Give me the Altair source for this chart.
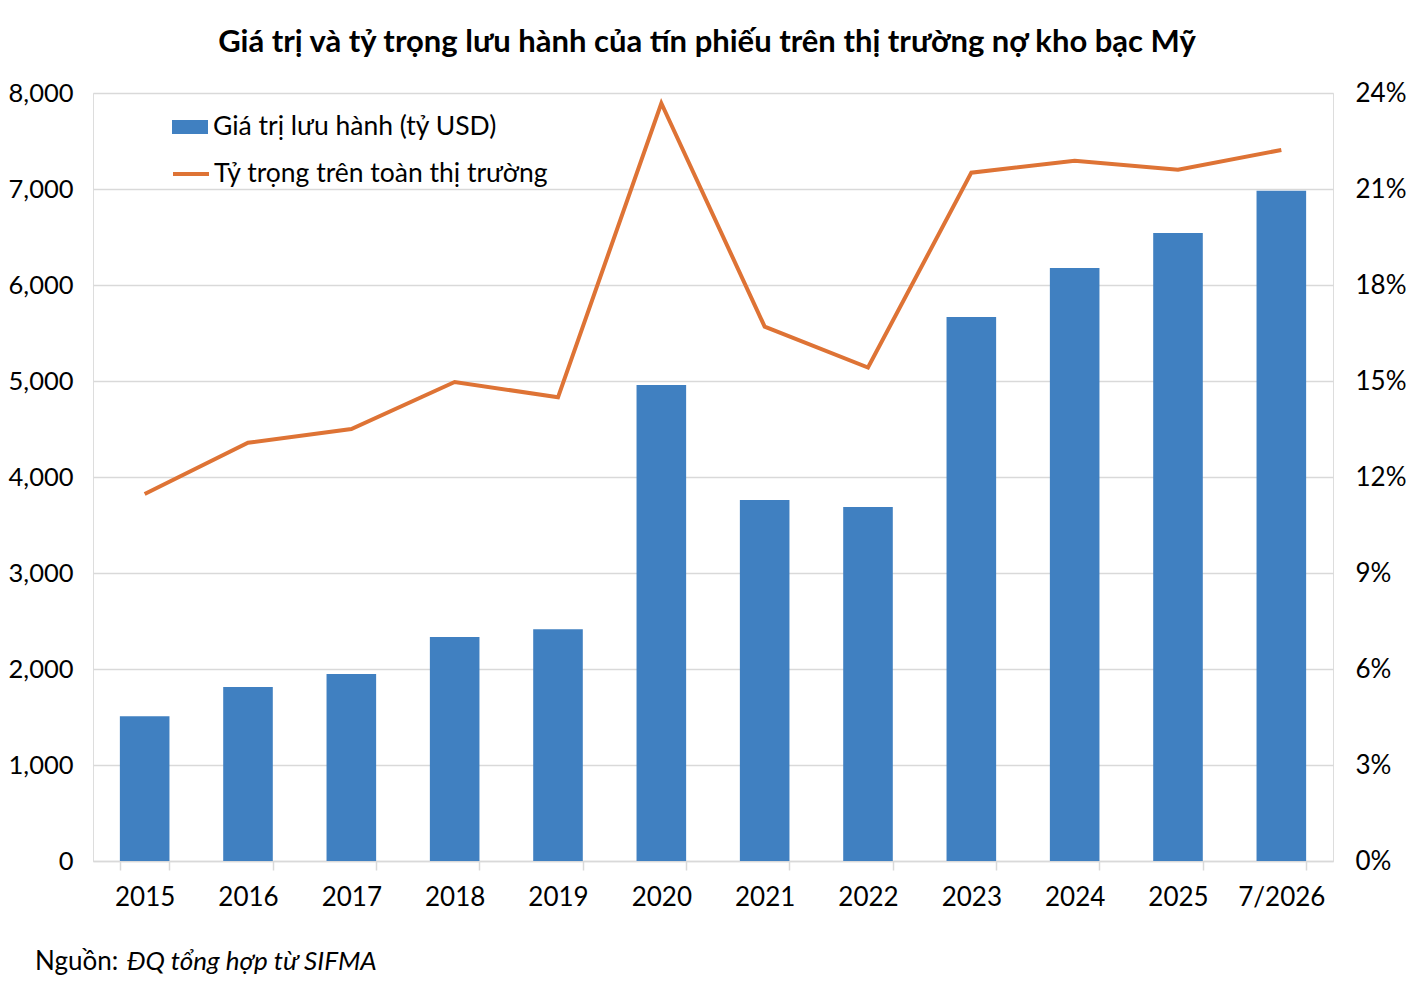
import altair as alt
import pandas as pd

years = ["2015", "2016", "2017", "2018", "2019", "2020", "2021", "2022", "2023", "2024", "2025", "7/2026"]
values = [1507, 1812, 1948, 2333, 2413, 4958, 3760, 3687, 5667, 6177, 6542, 6982]
share = [11.47, 13.07, 13.5, 14.97, 14.49, 23.68, 16.7, 15.42, 21.51, 21.88, 21.6, 22.22]

bar_name = "Giá trị lưu hành (tỷ USD)"
line_name = "Tỷ trọng trên toàn thị trường"
title = "Giá trị và tỷ trọng lưu hành của tín phiếu trên thị trường nợ kho bạc Mỹ"
source_label = ["Nguồn:"]
source_text = ["ĐQ tổng hợp từ SIFMA"]

df = pd.DataFrame({"year": years, "value": values, "share": share,
                   "s1": bar_name, "s2": line_name})
src_df = pd.DataFrame({"a": source_label, "b": source_text})

FONT = "Lato"
BLUE = "#4080C1"
ORANGE = "#DE7335"
GRID = "#D9D9D9"
FS = 26

x = alt.X("year:N", sort=years, title=None,
          scale=alt.Scale(paddingInner=0.52, paddingOuter=0.26),
          axis=alt.Axis(labelAngle=0, labelFontSize=FS, labelFont=FONT, labelColor="#000",
                        labelPadding=14, domainColor=GRID, domainWidth=1.5,
                        tickColor=GRID, tickWidth=1.5, tickSize=9, tickBand="extent",
                        grid=False))

bars = alt.Chart(df).mark_bar(color=BLUE).encode(
    x=x,
    y=alt.Y("value:Q", title=None,
            scale=alt.Scale(domain=[0, 8000], nice=False),
            axis=alt.Axis(values=list(range(0, 8001, 1000)), format=",d",
                          labelFontSize=25.5, labelFont=FONT, labelColor="#000",
                          labelPadding=20, ticks=False, domain=False,
                          grid=True, gridColor=GRID, gridWidth=1.5)),
    color=alt.Color("s1:N", scale=alt.Scale(domain=[bar_name], range=[BLUE]),
                    legend=alt.Legend(title=None, orient="none", legendX=79, legendY=16,
                                      symbolType="M-1,-0.39H1V0.39H-1Z", symbolSize=1296,
                                      symbolStrokeWidth=0, labelFontSize=26.5, labelFont=FONT,
                                      labelColor="#000", labelOffset=5, padding=0,
                                      labelLimit=0)),
)

line = alt.Chart(df).mark_line(color=ORANGE, strokeWidth=4).encode(
    x=x,
    y=alt.Y("share:Q", title=None,
            scale=alt.Scale(domain=[0, 24], nice=False),
            axis=alt.Axis(orient="right", values=list(range(0, 25, 3)),
                          labelExpr="datum.value + '%'",
                          labelFontSize=FS, labelFont=FONT, labelColor="#000",
                          labelPadding=22, ticks=False, domain=False, grid=False)),
    stroke=alt.Stroke("s2:N", scale=alt.Scale(domain=[line_name], range=[ORANGE]),
                      legend=alt.Legend(title=None, orient="none", legendX=78, legendY=61,
                                        symbolType="stroke", symbolSize=1296,
                                        symbolStrokeWidth=4, labelFontSize=26.5, labelFont=FONT,
                                        labelColor="#000", labelOffset=3, padding=0,
                                        labelLimit=0)),
)

src1 = alt.Chart(src_df).mark_text(align="left", baseline="middle",
                                   font=FONT, fontSize=FS, fontWeight="normal", color="#000").encode(
    text="a:N", x=alt.value(-58), y=alt.value(869))
src2 = alt.Chart(src_df).mark_text(align="left", baseline="middle",
                                   font=FONT, fontSize=FS, fontStyle="italic", fontWeight="normal",
                                   color="#000").encode(
    text="b:N", x=alt.value(34), y=alt.value(869))

chart = alt.layer(bars, line, src1, src2).resolve_scale(
    y="independent", color="independent"
).properties(
    width=1240, height=768,
    padding={"left": 85, "top": 85, "right": 73, "bottom": 121},
    autosize=alt.AutoSizeParams(type="none"),
    title=alt.TitleParams(title, font=FONT, fontSize=31, fontWeight="bold", color="#000",
                          anchor="middle", offset=21, dx=-6),
).configure_view(stroke=None).configure(background="white")

chart.save("out.html", embed_options={"renderer": "svg", "actions": False})
